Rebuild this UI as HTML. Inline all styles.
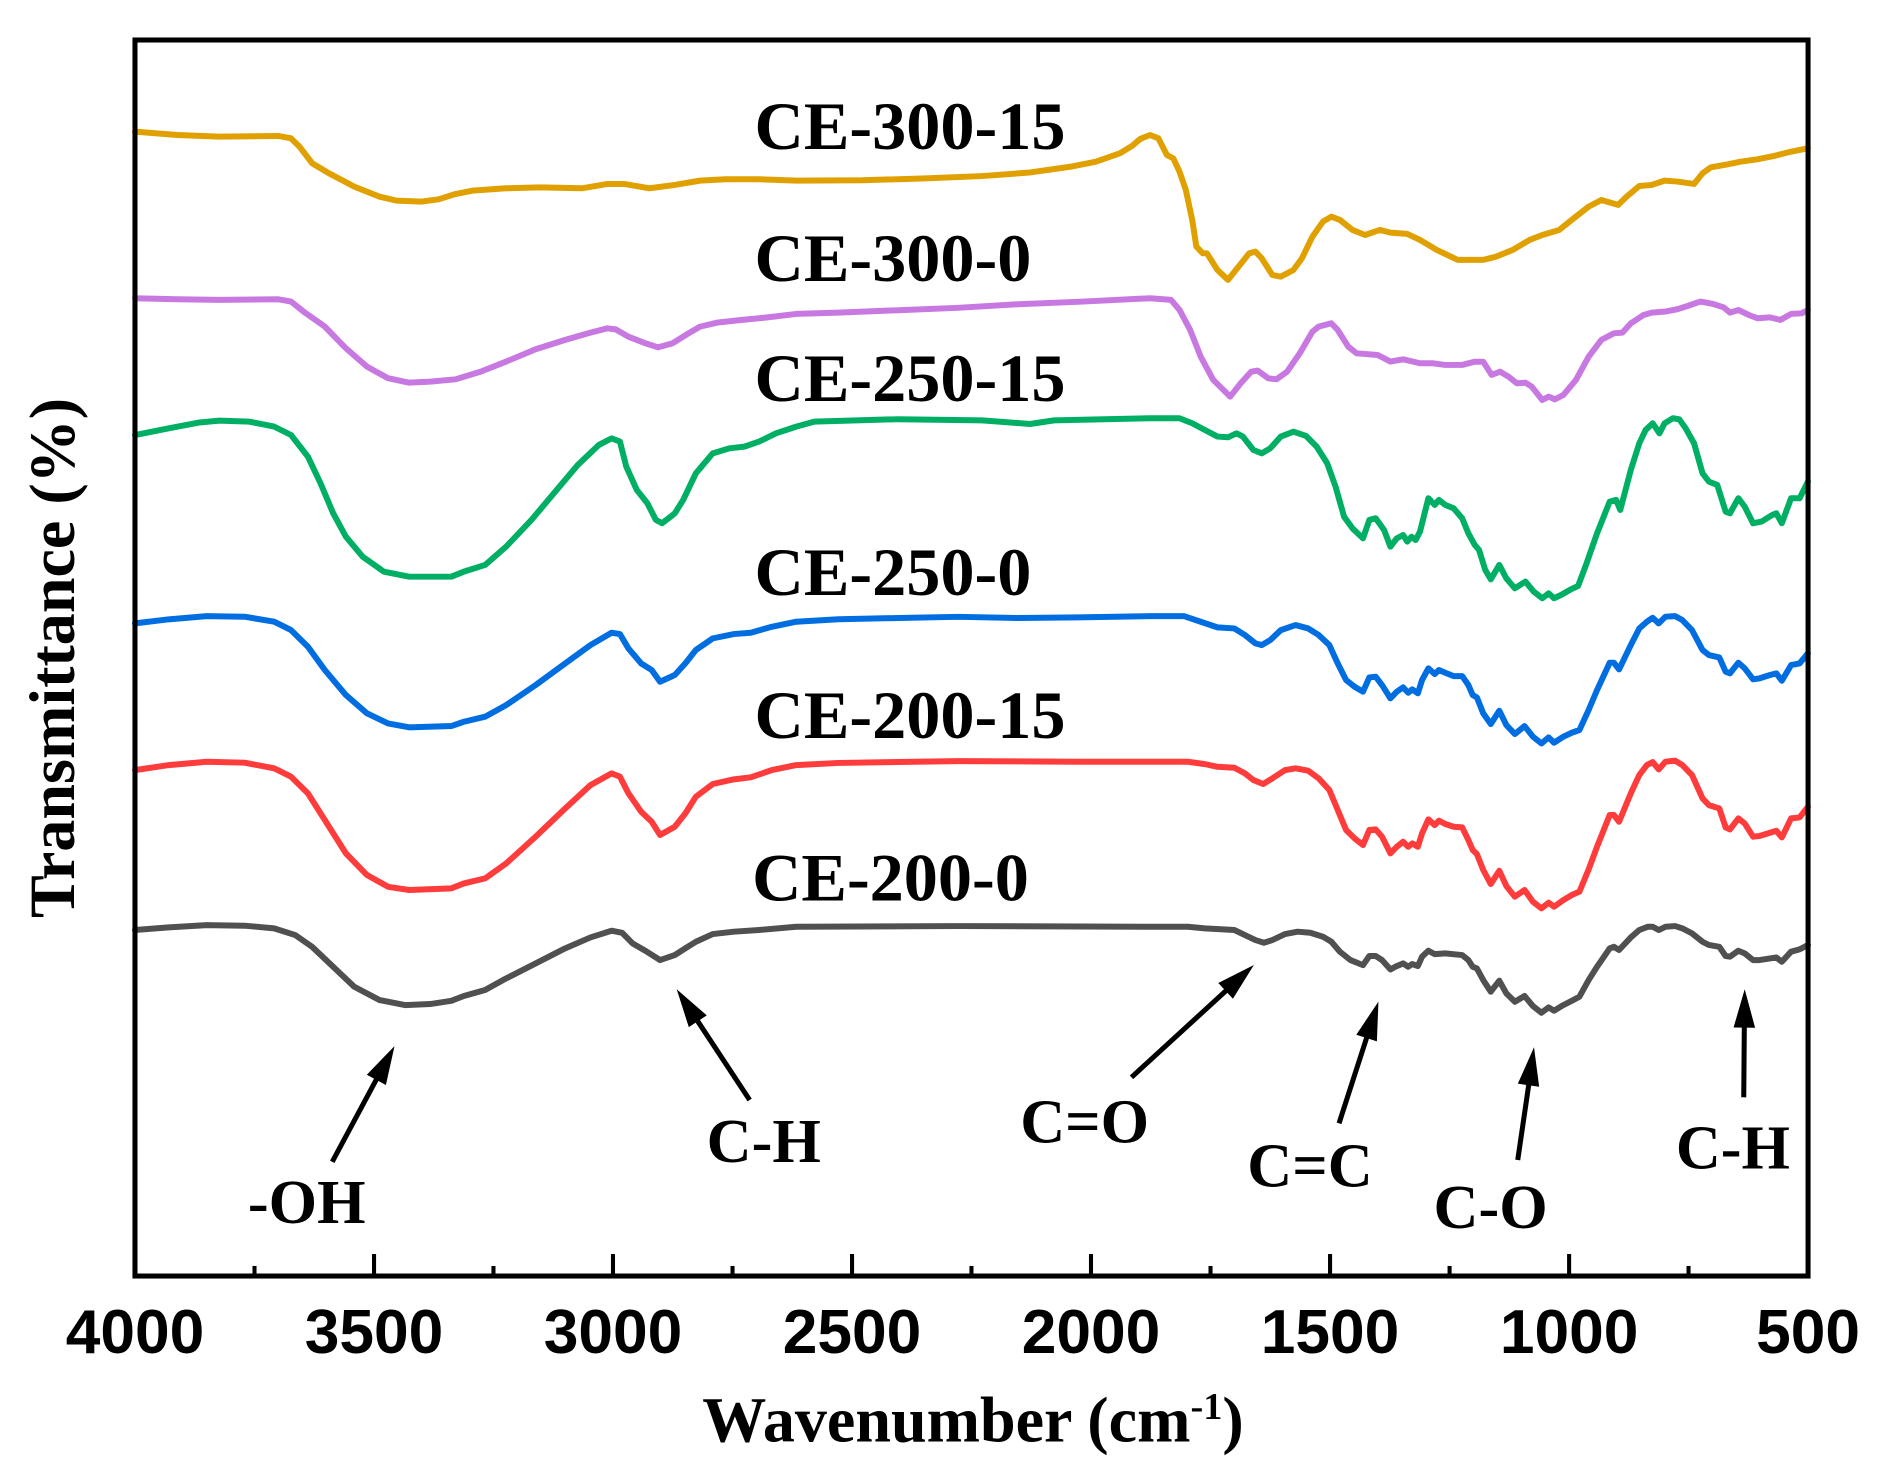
<!DOCTYPE html>
<html>
<head>
<meta charset="utf-8">
<style>
html,body{margin:0;padding:0;background:#fff;}
svg{display:block;}
.ser{font-family:"Liberation Serif","Times New Roman",serif;font-weight:bold;fill:#000;}
.tick{font-family:"Liberation Sans",Arial,sans-serif;font-weight:bold;fill:#000;font-size:52px;text-anchor:middle;}
polyline{fill:none;stroke-width:5;stroke-linejoin:round;stroke-linecap:round;}
</style>
</head>
<body>
<svg width="1878" height="1477" viewBox="0 0 1568 1233.2" preserveAspectRatio="none" xmlns="http://www.w3.org/2000/svg">
<rect x="0" y="0" width="1568" height="1233.2" fill="#fff"/>

<!-- series -->
<polyline stroke="#E0A000" points="112.7,109.9 147.9,112.7 183.1,114.1 232.4,113.5 243,115.5 250,122.4 260.6,136.3 274.7,144.7 295.8,155.8 316.9,164.2 331,167.5 352.1,168.3 366.2,166.4 380.3,162 394.4,159.2 422.6,157.2 450.7,156.4 485.9,157.2 507.1,153.6 521.1,153.6 542.3,157.2 563.4,154.4 584.5,150.8 605.7,149.7 633.8,149.7 664.8,150.8 720,150.5 770,149 820,147 860,144 895,139 915,135 935,128 945,122 952,116 960.2,112.7 967.2,115.5 974.3,129.4 979.6,132.2 984.8,143.3 990.1,158.6 995.4,183.6 998.9,205.9 1004.2,211.5 1007.7,211.5 1016.5,225.4 1025.3,233.7 1034.1,222.6 1043,211.5 1048.2,210.1 1053.5,215.7 1062.3,229.6 1069.4,231 1079.9,225.4 1087,215.7 1095.8,197.6 1104.6,185 1111.6,180.9 1118.7,183.6 1129.2,192 1139.8,196.2 1152.1,192 1160.9,194.2 1175,195.3 1185.6,200.3 1199.6,208.7 1217.2,217 1238.4,217 1249,214.3 1263,208.7 1277.1,200.3 1287.7,196.2 1301.8,192 1312.3,183.6 1326.4,172.5 1337,167 1351,171.1 1358.1,164.2 1368.7,155.3 1379.2,154.4 1389.8,150.8 1400.4,151.6 1414.4,153.6 1421.5,144.7 1428.5,139.7 1442.6,137.2 1453.2,135 1467.2,133 1481.3,130.2 1495.4,126.6 1509.5,123.8"/>

<polyline stroke="#C878E1" points="112.7,249 147.9,249.9 183.1,250.4 232.4,249.9 243,251.8 253.5,260.2 271.2,272.7 288.8,290.8 306.4,306.1 324,315.8 341.6,319.5 359.2,318.6 380.3,316.7 401.4,310.3 422.6,301.9 447.2,291.6 471.9,283.8 493,277.7 507.1,274.1 514.1,275 524.7,281.1 538.8,286.6 549.3,290 561.6,286.6 574,278.8 584.5,272.7 598.6,269.4 619.7,267.1 640.9,265 664.8,262.1 700,261 750,259 800,257 850,254 900,252 960.2,249 977.8,250.4 984.8,258.8 993.7,275.5 1002.5,297.8 1013,317.2 1027.1,331.2 1035.9,320 1044.7,310.3 1050,309.4 1058.8,315.8 1065.8,316.7 1074.6,310.3 1085.2,295 1095.8,276.9 1101,272.7 1111.6,269.9 1116.9,275.5 1125.7,289.4 1132.7,295 1150.3,296.4 1160.9,301.9 1171.5,300 1185.6,303.3 1196.1,303.3 1206.7,304.7 1220.8,304.7 1231.3,302 1238.4,302 1245.4,313 1252.5,310.3 1259.5,314.5 1266.5,320 1273.6,319.5 1278.9,322.8 1287.7,334 1293,331.2 1298.2,333.4 1305.3,329.8 1315.8,317.2 1326.4,297.8 1337,283.8 1347.5,278.3 1354.6,277.7 1361.6,270 1372.2,263 1379.2,261 1389.8,260.2 1400.4,258.2 1409.2,255.4 1419.7,251.8 1430.3,253.8 1439.1,256.6 1444.4,261 1451.4,258.8 1460.2,263 1467.2,265.7 1477.8,265 1486.6,267.1 1495.4,262.1 1504.2,261.6 1509.5,258.8"/>

<polyline stroke="#00AF64" points="112.7,363.2 140.9,357.6 165.5,352.9 183.1,351.2 207.8,352 228.9,356.2 243,363.2 257.1,381.3 267.6,403.5 278.2,428.6 288.8,448.1 302.8,464.8 320.5,477.3 341.6,481.5 376.8,481.5 387.3,477.3 405,471.7 422.6,456.4 443.7,434.1 464.8,409.1 482.4,388.2 500,371.5 510.6,366 517.6,368.7 522.9,389.6 531.7,409.1 540.5,420.2 547.6,434.1 552.8,436.9 563.4,428.6 570.4,417.4 581,395.2 595.1,378.5 609.2,374.3 621.5,372.9 633.8,368.7 647.9,361.8 664.8,356.2 680,352 750,350 820,351 860,354 880,351 960.2,349.2 984.8,349.2 995.4,353.4 1006,359 1016.5,364.5 1025.3,365.1 1032.4,361.8 1037.7,364.5 1046.5,375.7 1053.5,378.5 1060.6,374.3 1069.4,364.5 1080,360.4 1090.5,364 1099.3,372.9 1108.1,386.8 1115.1,406.3 1122.2,431.4 1129.2,441.1 1138,449.5 1143.3,434.1 1148.6,432.7 1155.6,442.5 1160.9,456.4 1166.2,449.5 1171.5,446.7 1175,452.2 1178.5,448.1 1182,450.9 1185.6,443.9 1192.6,416 1197.9,421.6 1201.4,417.4 1206.7,421.6 1213.7,424.4 1220.8,432.7 1226,445.3 1231.3,455 1234.9,459.2 1240.1,475.9 1244.7,483.7 1251.8,471.7 1257.7,482.9 1264.8,491.2 1273.6,485.6 1280.6,494 1287.7,499.5 1293,495.4 1297.5,499.5 1303.5,496.7 1310.6,492.6 1317.6,489.2 1324.7,470.3 1333.4,445.3 1344,418.8 1349.3,417.4 1352.8,425.8 1361.6,392.4 1368.7,370.1 1374,359 1379.9,353.4 1385.5,361.8 1389.8,353.4 1396.8,349.2 1402.1,350.1 1407.4,357.6 1414.4,370.1 1421.5,395.2 1426.8,402.1 1433.8,404.9 1440.8,427.2 1444.4,428.6 1451.4,416 1456.7,423 1463.7,436.9 1470.8,435.5 1479.6,430 1483.1,428.6 1487.7,436.9 1495.4,416 1502.5,416 1509.5,402.1"/>

<polyline stroke="#006EE1" points="112.7,520.5 140.9,517.1 172.6,514.4 204.2,514.9 228.9,519.1 243,526.1 257.1,540 271.2,559.4 288.8,580.3 306.4,595.6 324,604 341.6,607.3 376.8,606.2 387.3,602.6 405,598.4 422.6,588.7 447.2,572 471.9,553.9 493,538.6 510.6,528.3 517.6,529.4 524.7,541.4 535.3,553.9 544.1,559.4 551.1,569.2 563.4,563.6 572.2,553.9 581,542.7 595.1,533 612.7,529.4 626.8,528.3 644.4,523.3 664.8,519.1 700,517 750,516 800,515 850,516 900,515.5 960.2,514.4 988.4,514.4 1002.5,519.1 1016.5,523.8 1030.6,524.7 1039.4,530.2 1048.2,537.2 1053.5,538.6 1060.6,534.4 1069.4,526.1 1081.7,521.9 1092.2,524.7 1101,530.2 1109.9,538.6 1116.9,553.9 1123.9,567.8 1131,573.4 1138,577.5 1143.3,565.6 1148.6,565 1153.9,572 1160.9,583.1 1166.2,577.5 1171.5,573.9 1175.7,578.4 1179.2,575.6 1183.8,578.9 1187.3,567.8 1192.6,558 1197.9,562.8 1201.4,559.4 1206.7,561.7 1213.7,564.5 1220.8,564.5 1226,572 1229.6,580.3 1233.1,582.3 1238.4,595.6 1244.7,604.5 1251.8,593.4 1257.7,605.4 1264.8,612.9 1272.9,606.2 1279.9,615.1 1287,620.7 1293,615.7 1297.5,620.1 1305.3,615.1 1312.3,611.8 1318.7,609.5 1326.4,592.8 1333.4,576.2 1344,553.3 1347.5,553.3 1351.8,558.9 1361.6,538.6 1368.7,524.7 1375,519.1 1379.9,515.8 1384.9,520.5 1390.5,514.9 1398.6,514.4 1404.6,517.7 1412.7,526.1 1421.5,542.7 1426.8,546.9 1435.5,548.9 1440.8,560.8 1444.4,562.2 1451.4,553.3 1456.7,558 1463.7,567.2 1469,566.4 1477.8,563.6 1483.1,562.2 1487.7,568.4 1495.4,555.3 1502.5,553.9 1509.5,545.5"/>

<polyline stroke="#FF3C3C" points="112.7,643 140.9,638.8 172.6,636 204.2,636.8 228.9,641.5 243,648.5 257.1,662.4 271.2,684.7 288.8,712.5 306.4,730.6 324,740.4 341.6,743.1 376.8,741.7 387.3,737.6 405,733.4 422.6,720.9 447.2,698.6 471.9,675 493,655.5 510.6,645.7 517.6,648.5 524.7,662.4 535.3,677.7 544.1,686.1 551.1,697.2 563.4,690.3 572.2,679.1 581,665.2 595.1,654.6 612.7,650.7 626.8,649 644.4,643 664.8,638.8 700,637 800,635.5 900,636 960.2,636 991.9,636 1006,638 1016.5,640.2 1030.6,641 1039.4,645.7 1046.5,651.3 1054.6,654.6 1062.3,649.9 1072.9,643 1081.7,641.5 1092.2,643.5 1101,649.9 1109.9,659.6 1116.9,676.3 1123.9,693 1131,700 1138,705.6 1143.3,693 1148.6,692.5 1153.9,698.6 1160.9,712.5 1166.2,707 1171.5,702.8 1175.7,707 1179.2,704.2 1183.8,707 1187.3,695.8 1192.6,684.1 1197.9,688.9 1201.4,685.2 1206.7,688 1213.7,690.3 1220.8,690.8 1226,701.4 1229.6,709.7 1233.1,713.1 1238.4,726.4 1244.7,738.1 1251.8,727 1257.7,739.8 1264.8,748.7 1272.9,743.1 1279.9,752.9 1287,758.4 1293,753.7 1297.5,757 1305.3,751.5 1312.3,747.3 1318.7,744.5 1326.4,725.9 1333.4,707 1344,680.5 1347.5,680.5 1351.8,686.1 1361.6,662.4 1368.7,647.1 1375,638.8 1379.9,636.3 1384.9,642.4 1390.5,636 1398.6,635.1 1404.6,638.8 1412.7,647.1 1421.5,666.6 1426.8,672.2 1435.5,675 1440.8,690.8 1444.4,692.5 1451.4,683.3 1456.7,687.5 1463.7,698.6 1469,698 1477.8,695.3 1483.1,693.6 1487.7,699.2 1495.4,683.3 1502.5,682.5 1509.5,673.6"/>

<polyline stroke="#505050" points="112.7,776.5 140.9,774.3 172.6,772.4 204.2,772.9 228.9,775.1 246.5,780.7 260.6,790.5 278.2,807.2 295.8,823.9 316.9,835 338.1,839.2 359.2,838.3 376.8,835.6 387.3,831.6 405,826.6 422.6,816.9 447.2,804.4 471.9,791.8 493,782.7 510.6,777.1 519.4,778.8 528.2,787.7 538.8,793.8 551.1,801.6 563.4,797.4 572.2,791.8 581,786.3 595.1,779.9 612.7,777.9 633.8,776.5 664.8,773.8 800,773.2 960.2,773.8 991.9,773.8 1006,775.1 1030.6,776.5 1039.4,780.7 1048.2,784.9 1055.3,787.1 1062.3,784.9 1072.9,779.9 1083.4,777.9 1094,778.8 1104.6,782.1 1111.6,786.3 1118.7,794.6 1127.5,801.6 1138,805.8 1143.3,798.2 1148.6,798.2 1153.9,801.6 1160.9,809.4 1166.2,806.6 1171.5,804.4 1175.7,807.2 1179.2,804.9 1183.8,806.6 1187.3,798.8 1192.6,793.8 1197.9,796.6 1206.7,796 1220.8,797.4 1226,801.6 1229.6,807.2 1233.1,808.6 1238.4,818.3 1244.7,828 1251.8,818.8 1257.7,829.4 1264.8,836.4 1272.9,831.6 1279.9,840 1287,845.6 1293,841.1 1297.5,843.9 1305.3,839.2 1312.3,835.6 1318.7,832.2 1326.4,818.3 1333.4,807.2 1344,791.8 1347.5,790.5 1351.8,793.2 1361.6,782.7 1368.7,776.5 1375.7,773.8 1379.9,773.8 1384.9,776.5 1390.5,773.8 1398.6,773.2 1404.6,775.1 1412.7,779.3 1421.5,786.3 1426.8,789 1435.5,790.5 1440.8,798.2 1444.4,798.8 1451.4,793.8 1456.7,796 1463.7,801.6 1469,801.6 1477.8,800.2 1483.1,799.4 1487.7,803 1495.4,794.6 1502.5,792.7 1509.5,789"/>

<!-- frame -->
<rect x="112.7" y="33.4" width="1396.9" height="1032" fill="none" stroke="#000" stroke-width="4.2"/>

<!-- ticks -->
<g stroke="#000" stroke-width="3.4">
<line x1="312.3" y1="1065.4" x2="312.3" y2="1047"/>
<line x1="511.8" y1="1065.4" x2="511.8" y2="1047"/>
<line x1="711.4" y1="1065.4" x2="711.4" y2="1047"/>
<line x1="910.9" y1="1065.4" x2="910.9" y2="1047"/>
<line x1="1110.5" y1="1065.4" x2="1110.5" y2="1047"/>
<line x1="1310.1" y1="1065.4" x2="1310.1" y2="1047"/>
<line x1="212.5" y1="1065.4" x2="212.5" y2="1057"/>
<line x1="412" y1="1065.4" x2="412" y2="1057"/>
<line x1="611.6" y1="1065.4" x2="611.6" y2="1057"/>
<line x1="811.1" y1="1065.4" x2="811.1" y2="1057"/>
<line x1="1010.7" y1="1065.4" x2="1010.7" y2="1057"/>
<line x1="1210.3" y1="1065.4" x2="1210.3" y2="1057"/>
<line x1="1409.8" y1="1065.4" x2="1409.8" y2="1057"/>
</g>

<!-- tick labels -->
<g class="tick">
<text x="112.7" y="1129.7">4000</text>
<text x="312.3" y="1129.7">3500</text>
<text x="511.8" y="1129.7">3000</text>
<text x="711.4" y="1129.7">2500</text>
<text x="910.9" y="1129.7">2000</text>
<text x="1110.5" y="1129.7">1500</text>
<text x="1310.1" y="1129.7">1000</text>
<text x="1509.6" y="1129.7">500</text>
</g>

<!-- axis titles -->
<text class="ser" x="812.4" y="1203.7" font-size="53.5" text-anchor="middle">Wavenumber (cm<tspan font-size="32" dy="-19">-1</tspan><tspan dy="19">)</tspan></text>
<text class="ser" font-size="53.5" transform="translate(61.8,766.5) rotate(-90)">Transmittance (%)</text>

<!-- series labels -->
<g class="ser" font-size="57">
<text x="630" y="124.4">CE-300-15</text>
<text x="630" y="234.6">CE-300-0</text>
<text x="630" y="335">CE-250-15</text>
<text x="630" y="497">CE-250-0</text>
<text x="630" y="616">CE-200-15</text>
<text x="628" y="752">CE-200-0</text>
</g>

<!-- annotation labels -->
<g class="ser" font-size="52">
<text x="207" y="1021">-OH</text>
<text x="590" y="970">C-H</text>
<text x="851.8" y="954">C=O</text>
<text x="1041.4" y="990.8">C=C</text>
<text x="1196.9" y="1025.5">C-O</text>
<text x="1399.2" y="975.5">C-H</text>
</g>

<!-- arrows -->
<g stroke="#000" stroke-width="4.2" stroke-linecap="butt">
<line x1="277.4" y1="970" x2="316" y2="898"/>
<line x1="625.9" y1="918.4" x2="580.5" y2="849.5"/>
<line x1="944.7" y1="899.5" x2="1026" y2="825"/>
<line x1="1118" y1="937.9" x2="1142" y2="863.5"/>
<line x1="1267.2" y1="968.5" x2="1276.8" y2="903"/>
<line x1="1455.9" y1="916.2" x2="1456.4" y2="855"/>
</g>
<g fill="#000">
<polygon points="329.4,873.4 322.2,905.9 314.2,901.6 306.3,897.3"/>
<polygon points="565,826 590.1,847.8 582.6,852.7 575.1,857.6"/>
<polygon points="1046.9,805.7 1029.4,833.9 1023.3,827.3 1017.2,820.7"/>
<polygon points="1150.9,836.3 1149.6,869.5 1141,866.7 1132.4,863.9"/>
<polygon points="1280.8,874.4 1285.1,907.4 1276.2,906.1 1267.3,904.8"/>
<polygon points="1456.7,826 1465.4,858.1 1456.4,858 1447.4,857.9"/>
</g>
</svg>
</body>
</html>
